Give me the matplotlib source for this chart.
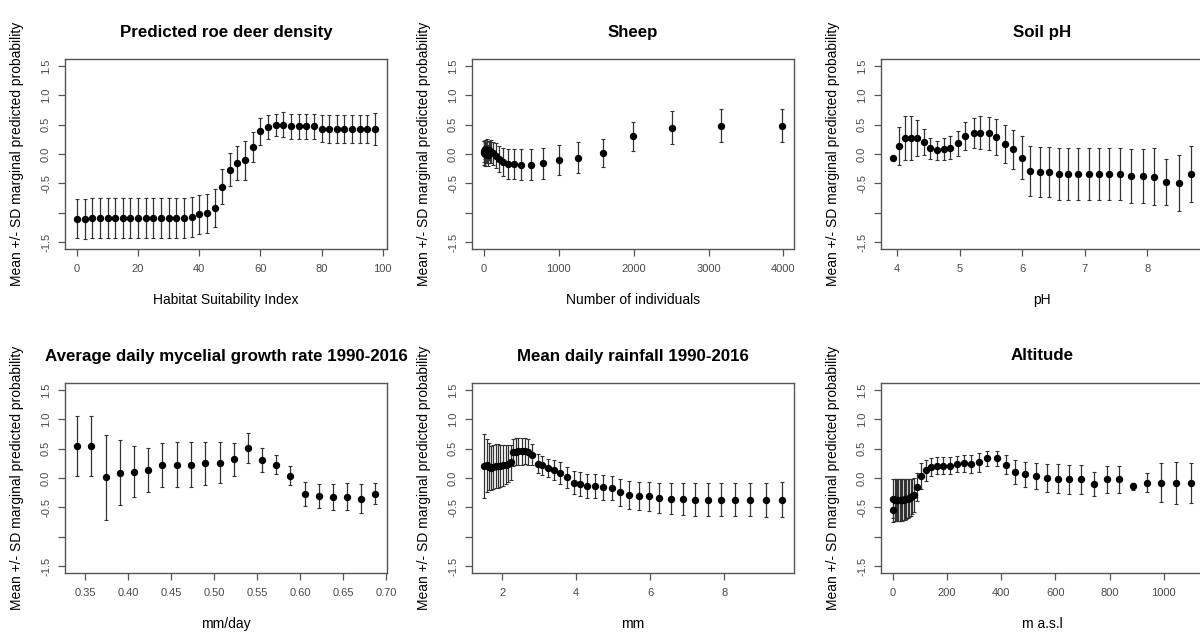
import matplotlib
matplotlib.use("Agg")
import matplotlib.pyplot as plt

plt.rcParams['font.family'] = ['Liberation Sans', 'DejaVu Sans']

# ---- data ----
# Predicted roe deer density
hsi_x = [0, 2.5, 5, 7.5, 10, 12.5, 15, 17.5, 20, 22.5, 25, 27.5, 30, 32.5, 35, 37.5,
         40, 42.5, 45, 47.5, 50, 52.5, 55, 57.5, 60, 62.5, 65, 67.5, 70, 72.5,
         75, 77.5, 80, 82.5, 85, 87.5, 90, 92.5, 95, 97.5]
hsi_y = [-1.10, -1.11, -1.09, -1.09, -1.09, -1.09, -1.09, -1.09, -1.09, -1.09, -1.09, -1.09,
         -1.09, -1.09, -1.09, -1.075, -1.03, -1.01, -0.92, -0.555, -0.27, -0.16, -0.11, 0.12,
         0.39, 0.46, 0.49, 0.50, 0.47, 0.47, 0.47, 0.47, 0.43, 0.42, 0.42, 0.42, 0.42, 0.42,
         0.43, 0.43]
hsi_sd = [0.34, 0.34, 0.34, 0.34, 0.34, 0.34, 0.34, 0.34, 0.34, 0.34, 0.34, 0.34, 0.34, 0.34,
          0.34, 0.34, 0.33, 0.33, 0.33, 0.30, 0.28, 0.29, 0.33, 0.26, 0.23, 0.20, 0.19, 0.21,
          0.21, 0.22, 0.22, 0.21, 0.23, 0.24, 0.24, 0.24, 0.24, 0.24, 0.24, 0.27]

# Sheep
sheep_x = [0, 5, 10, 20, 30, 40, 50, 63, 79, 100, 126, 158, 200, 251, 316, 398, 501, 631,
           794, 1000, 1259, 1585, 1995, 2512, 3162, 3981]
sheep_y = [0.02, 0.05, 0.0, 0.08, 0.03, 0.05, -0.02, 0.06, 0.02, 0.04, 0.01, -0.03, -0.08,
           -0.14, -0.17, -0.17, -0.18, -0.18, -0.16, -0.10, -0.06, 0.02, 0.30, 0.45, 0.48, 0.48]
sheep_sd = [0.2, 0.18, 0.2, 0.16, 0.18, 0.2, 0.18, 0.17, 0.18, 0.2, 0.2, 0.21, 0.22, 0.24,
            0.26, 0.26, 0.27, 0.27, 0.27, 0.25, 0.26, 0.24, 0.245, 0.28, 0.28, 0.28]

# Soil pH
ph_x = [3.93, 4.03, 4.12, 4.22, 4.32, 4.42, 4.52, 4.63, 4.74, 4.85, 4.97, 5.09, 5.22, 5.33,
        5.46, 5.58, 5.72, 5.85, 5.99, 6.13, 6.28, 6.43, 6.58, 6.73, 6.89, 7.06, 7.22, 7.39,
        7.57, 7.74, 7.93, 8.11, 8.30, 8.51, 8.70]
ph_y = [-0.07, 0.14, 0.27, 0.27, 0.27, 0.21, 0.10, 0.06, 0.085, 0.11, 0.18, 0.31, 0.36, 0.36,
        0.35, 0.29, 0.175, 0.08, -0.06, -0.29, -0.31, -0.31, -0.34, -0.34, -0.34, -0.34,
        -0.34, -0.34, -0.34, -0.37, -0.37, -0.385, -0.475, -0.49, -0.34]
ph_sd = [0.03, 0.32, 0.38, 0.38, 0.31, 0.22, 0.18, 0.17, 0.18, 0.19, 0.21, 0.24, 0.26, 0.28,
         0.28, 0.30, 0.32, 0.33, 0.36, 0.42, 0.43, 0.43, 0.45, 0.45, 0.45, 0.45, 0.45, 0.45,
         0.45, 0.46, 0.46, 0.48, 0.39, 0.48, 0.48]

# Average daily mycelial growth rate
myc_x = [0.3407, 0.3573, 0.3740, 0.3906, 0.4072, 0.4238, 0.4400, 0.4566, 0.4733, 0.4899,
         0.5065, 0.5231, 0.5393, 0.5560, 0.5726, 0.5888, 0.6054, 0.6220, 0.6383, 0.6549,
         0.6711, 0.6873]
myc_y = [0.55, 0.55, 0.01, 0.09, 0.11, 0.14, 0.22, 0.23, 0.23, 0.25, 0.26, 0.32, 0.51, 0.31,
         0.23, 0.04, -0.27, -0.31, -0.32, -0.32, -0.35, -0.27]
myc_sd = [0.51, 0.51, 0.73, 0.55, 0.44, 0.38, 0.37, 0.38, 0.38, 0.37, 0.35, 0.28, 0.26, 0.21,
          0.16, 0.16, 0.20, 0.21, 0.22, 0.23, 0.25, 0.18]

# Mean daily rainfall
rain_x = [1.51, 1.58, 1.64, 1.70, 1.76, 1.83, 1.89, 1.955, 2.03, 2.10, 2.17, 2.23, 2.30, 2.37,
          2.44, 2.53, 2.62, 2.71, 2.81, 2.96, 3.09, 3.24, 3.40, 3.57, 3.75, 3.93, 4.10, 4.30,
          4.51, 4.73, 4.96, 5.19, 5.44, 5.70, 5.97, 6.25, 6.56, 6.88, 7.21, 7.55, 7.91, 8.29,
          8.70, 9.12, 9.56]
rain_y = [0.205, 0.215, 0.19, 0.17, 0.19, 0.205, 0.205, 0.205, 0.215, 0.225, 0.245, 0.27,
          0.44, 0.45, 0.455, 0.46, 0.455, 0.45, 0.40, 0.245, 0.215, 0.17, 0.14, 0.085, 0.01,
          -0.08, -0.10, -0.14, -0.14, -0.16, -0.17, -0.245, -0.285, -0.31, -0.31, -0.34,
          -0.35, -0.36, -0.37, -0.37, -0.37, -0.37, -0.37, -0.37, -0.37]
rain_sd = [0.55, 0.45, 0.40, 0.38, 0.38, 0.37, 0.37, 0.36, 0.35, 0.33, 0.31, 0.30, 0.23, 0.23,
           0.23, 0.23, 0.22, 0.22, 0.18, 0.16, 0.16, 0.16, 0.17, 0.18, 0.18, 0.20, 0.20, 0.20,
           0.20, 0.21, 0.21, 0.23, 0.24, 0.24, 0.25, 0.25, 0.27, 0.27, 0.28, 0.28, 0.28, 0.28,
           0.28, 0.29, 0.30]

# Altitude
alt_x = [0, 2, 6, 10, 15, 20, 25, 30, 35, 40, 45, 50, 55, 60, 66, 72, 78,
         90, 105, 123, 142, 161, 185, 209, 235, 262, 289, 319, 349, 383, 417, 451, 488,
         528, 568, 609, 651, 695, 743, 790, 836, 886, 937, 991, 1045, 1101]
alt_y = [-0.545, -0.35, -0.37, -0.38, -0.38, -0.38, -0.38, -0.38, -0.37, -0.37, -0.36, -0.36,
         -0.35, -0.34, -0.33, -0.31, -0.29,
         -0.16, 0.03, 0.13, 0.19, 0.21, 0.21, 0.21, 0.24, 0.25, 0.24, 0.27, 0.335, 0.335,
         0.23, 0.10, 0.06, 0.03, 0.0, -0.01, -0.02, -0.02, -0.10, -0.02, -0.02, -0.14,
         -0.08, -0.08, -0.08, -0.08]
alt_sd = [0.21, 0.33, 0.36, 0.36, 0.36, 0.36, 0.36, 0.36, 0.36, 0.35, 0.35, 0.34, 0.33, 0.32,
          0.31, 0.30, 0.29,
          0.24, 0.22, 0.18, 0.15, 0.15, 0.15, 0.14, 0.14, 0.14, 0.16, 0.16, 0.13, 0.13, 0.16,
          0.21, 0.21, 0.22, 0.24, 0.25, 0.25, 0.25, 0.20, 0.23, 0.23, 0.06, 0.16, 0.33, 0.36,
          0.34]

titles = ["Predicted roe deer density", "Sheep", "Soil pH",
          "Average daily mycelial growth rate 1990-2016", "Mean daily rainfall 1990-2016",
          "Altitude"]
xlabels = ["Habitat Suitability Index", "Number of individuals", "pH",
           "mm/day", "mm", "m a.s.l"]
xticks = [[0, 20, 40, 60, 80, 100], [0, 1000, 2000, 3000, 4000], [4, 5, 6, 7, 8],
          [0.35, 0.40, 0.45, 0.50, 0.55, 0.60, 0.65, 0.70], [2, 4, 6, 8],
          [0, 200, 400, 600, 800, 1000]]
xfmt = ["{:g}", "{:g}", "{:g}", "{:.2f}", "{:g}", "{:g}"]
yticks = [-1.5, -1.0, -0.5, 0.0, 0.5, 1.0, 1.5]
ytick_labels = ["-1.5", "", "-0.5", "0.0", "0.5", "1.0", "1.5"]
ylab = "Mean +/- SD marginal predicted probability"

series = [(hsi_x, hsi_y, hsi_sd), (sheep_x, sheep_y, sheep_sd), (ph_x, ph_y, ph_sd),
          (myc_x, myc_y, myc_sd), (rain_x, rain_y, rain_sd), (alt_x, alt_y, alt_sd)]

W, H = 1200, 635
fig = plt.figure(figsize=(W / 100, H / 100), dpi=100, facecolor='white')

# axes boxes in pixels: left, top, width, height (right column runs past the edge)
lefts = [65, 472, 881]
tops = [59, 383]
bw, bh = 322, 190

axis_col = '#555555'
for i, (xs, ys, sd) in enumerate(series):
    r, c = divmod(i, 3)
    ax = fig.add_axes([lefts[c] / W, (H - tops[r] - bh) / H, bw / W, bh / H])
    ax.errorbar(xs, ys, yerr=sd, fmt='o', color='black', ms=4.3,
                ecolor='#333333', elinewidth=0.9, capsize=1.2, capthick=0.8)
    # R style 4% padding on x
    lo, hi = min(xs), max(xs)
    pad = 0.04 * (hi - lo)
    ax.set_xlim(lo - pad, hi + pad)
    ax.set_ylim(-1.62, 1.62)
    ax.set_yticks(yticks)
    ax.set_yticklabels(ytick_labels, rotation=90, va='center')
    ax.set_xticks(xticks[i])
    ax.set_xticklabels([xfmt[i].format(t) for t in xticks[i]])
    ax.tick_params(axis='both', direction='out', length=5, width=0.9,
                   color=axis_col, labelcolor='#4a4a4a', labelsize=8)
    ax.tick_params(axis='x', pad=6)
    ax.tick_params(axis='y', pad=5)
    for s in ax.spines.values():
        s.set_color(axis_col)
        s.set_linewidth(1.0)
    ax.text(0.5, 1 + 27 / bh, titles[i], transform=ax.transAxes, ha='center',
            va='center', fontsize=12.2, fontweight='bold')
    ax.text(0.5, -51 / bh, xlabels[i], transform=ax.transAxes, ha='center',
            va='center', fontsize=10)
    ax.text(-48 / bw, 0.5, ylab, transform=ax.transAxes, ha='center', va='center',
            rotation=90, fontsize=10)

fig.savefig("out.png", dpi=100, facecolor='white')
